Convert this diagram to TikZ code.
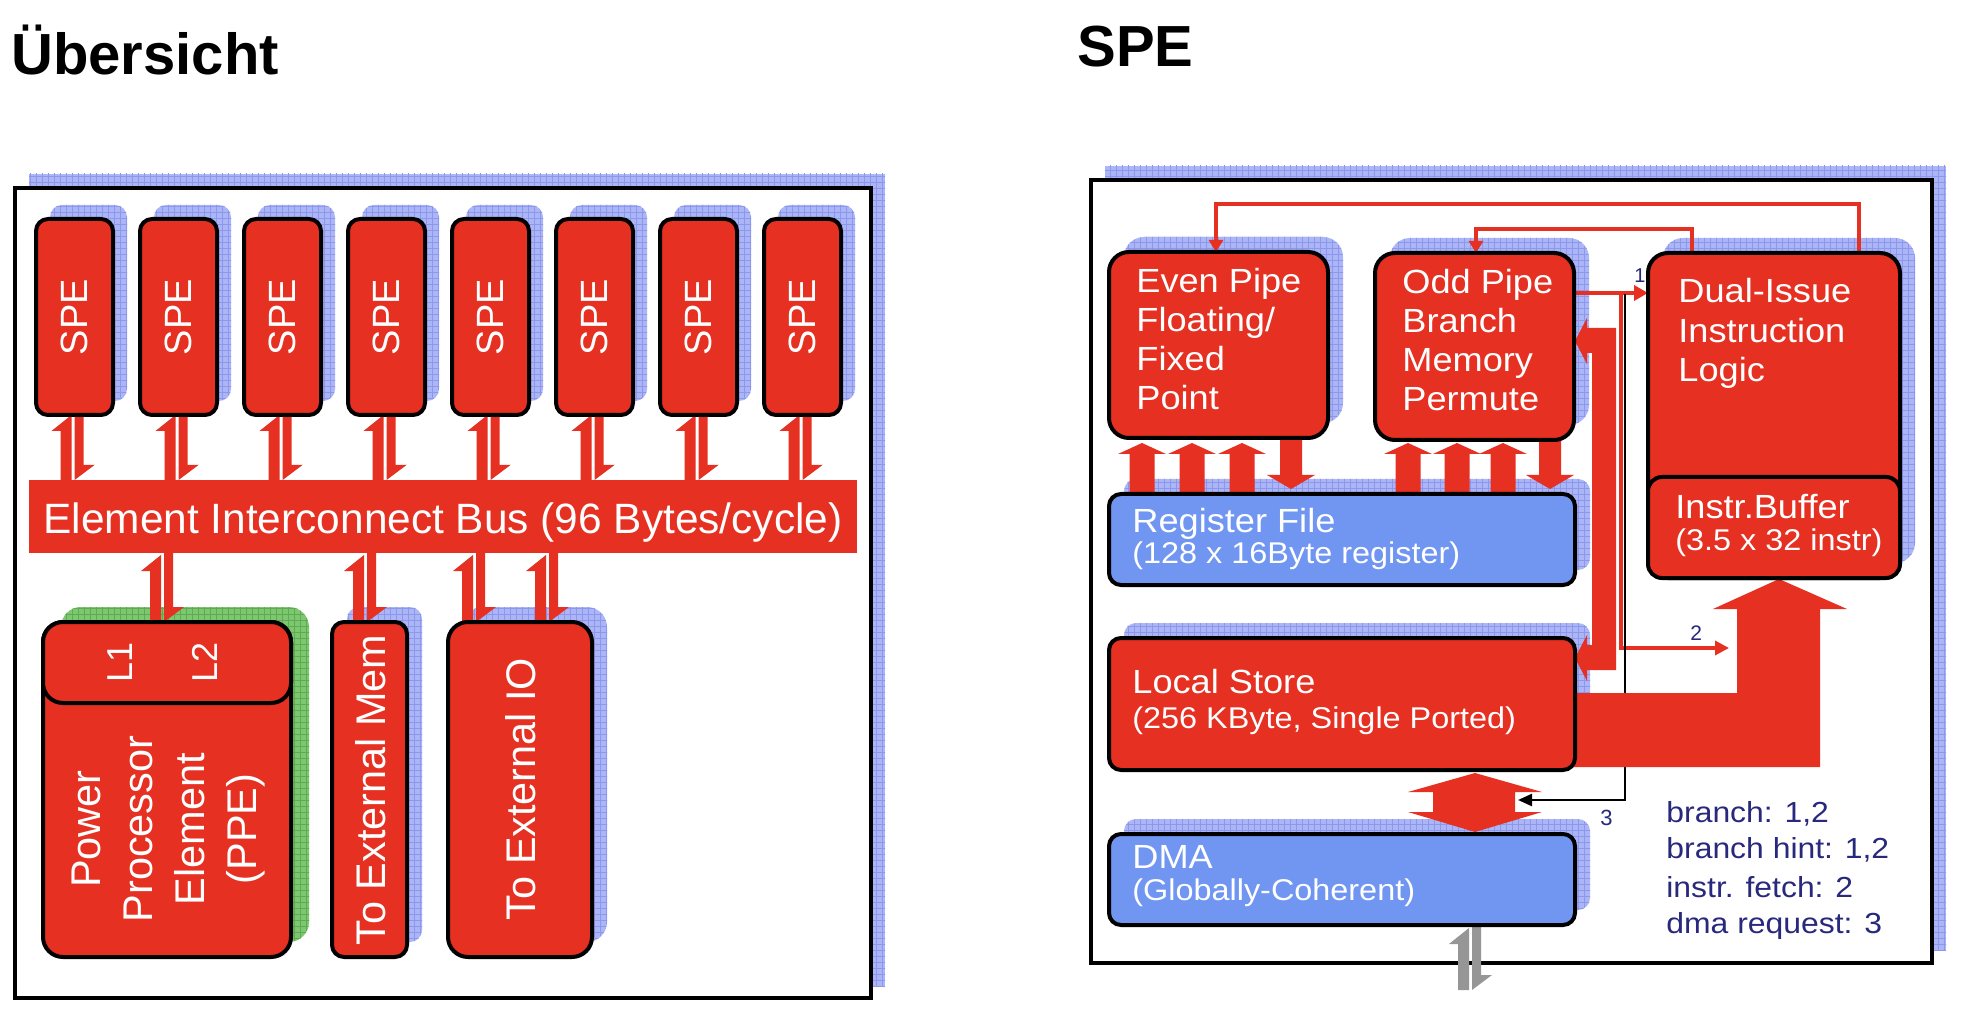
\documentclass[tikz,border=0pt]{standalone}
\usepackage{fontspec}
\setmainfont{Liberation Sans}
\usepackage{graphicx}
\usetikzlibrary{arrows.meta,fit,patterns}
\pgfdeclarelayer{lzero}
\pgfdeclarelayer{lone}
\pgfdeclarelayer{ltwo}
\pgfsetlayers{lzero,lone,ltwo,main}
\definecolor{cred}{RGB}{229,48,34}
\definecolor{cblue}{RGB}{112,150,242}
\definecolor{shblue}{RGB}{172,182,247}
\definecolor{shgrid}{RGB}{140,152,238}
\definecolor{shgreen}{RGB}{125,200,110}
\definecolor{shggrid}{RGB}{95,170,85}
\definecolor{navy}{RGB}{40,40,125}
\definecolor{cgray}{RGB}{150,150,150}
\newcommand\shadowrect[7]{%
  \fill[#6,rounded corners=#5] (#1,#2) rectangle (#3,#4);
  \fill[pattern=grid,pattern color=#7,rounded corners=#5] (#1,#2) rectangle (#3,#4);}
\newcommand\hpair[4]{%
  \fill[#4] ({#1-3},{#2+2}) -- ({#1-23},{#2+18}) -- ({#1-14},{#2+18}) -- ({#1-14},#3) -- ({#1-3},#3) -- cycle;
  \fill[#4] (#1,#2) -- ({#1+9},#2) -- ({#1+9},{#3-15}) -- ({#1+20},{#3-15}) -- (#1,#3) -- cycle;}
\newcommand\uparr[1]{%
  \fill[cred] (#1,443) -- ({#1+24},454) -- ({#1+12.5},454) -- ({#1+12.5},495) -- ({#1-12.5},495) -- ({#1-12.5},454) -- ({#1-24},454) -- cycle;}
\newcommand\dnarr[1]{%
  \fill[cred] ({#1-11},437) -- ({#1+11},437) -- ({#1+11},475) -- ({#1+24},475) -- (#1,489) -- ({#1-24},475) -- ({#1-11},475) -- cycle;}
\newcommand\sx[1]{\scalebox{1.08}[1]{#1}}
\newcommand\sy[1]{\scalebox{1.1}[1]{#1}}
\newcommand\fA{\fontsize{16.75pt}{20pt}\selectfont}
\newcommand\fB{\fontsize{15pt}{18pt}\selectfont}
\newcommand\fL{\fontsize{14.5pt}{17pt}\selectfont}
\begin{document}
\begin{tikzpicture}[x=0.5pt,y=-0.5pt,
  rbox/.style={draw=black,line width=2pt,fill=cred,inner sep=0pt,outer sep=0pt},
  bbox/.style={rbox,fill=cblue},
  wt/.style={text=white,inner sep=0pt,anchor=base west},
  nv/.style={text=navy,inner sep=0pt,anchor=base west},
  redln/.style={draw=cred,line width=1.8pt},
  rtip/.style={-{Triangle[length=7pt,width=7pt]}}]
\useasboundingbox (0,0) rectangle (1978,1016);

% titles
\node[anchor=base west,inner sep=0pt,font=\fontsize{29pt}{34pt}\selectfont\bfseries] (tleft) at (11,75) {Übersicht};
\node[anchor=base west,inner sep=0pt,font=\fontsize{29pt}{34pt}\selectfont\bfseries] (tright) at (1077,67) {SPE};

% frames
\begin{pgfonlayer}{lzero}
\shadowrect{29}{174}{885}{986}{0pt}{shblue}{shgrid}
\shadowrect{1105}{166}{1946}{950}{0pt}{shblue}{shgrid}
\node[fit={(15,188) (871,998)},draw,line width=2.2pt,fill=white,inner sep=0pt] (lframe) {};
\node[fit={(1091,180) (1932,963)},draw,line width=2.2pt,fill=white,inner sep=0pt] (rframe) {};
\end{pgfonlayer}

% shadows
\begin{pgfonlayer}{lone}
\foreach \i in {0,...,7}{\shadowrect{50+104*\i}{205}{127+104*\i}{401}{6pt}{shblue}{shgrid}}
\shadowrect{61}{607}{309}{942}{10pt}{shgreen}{shggrid}
\shadowrect{347}{607}{422}{942}{6pt}{shblue}{shgrid}
\shadowrect{463}{607}{607}{942}{10pt}{shblue}{shgrid}
\shadowrect{1124}{237}{1343}{423}{10pt}{shblue}{shgrid}
\shadowrect{1390}{238}{1589}{425}{10pt}{shblue}{shgrid}
\shadowrect{1663}{238}{1915}{563}{10pt}{shblue}{shgrid}
\shadowrect{1124}{479}{1590}{570}{6pt}{shblue}{shgrid}
\shadowrect{1124}{623}{1590}{755}{6pt}{shblue}{shgrid}
\shadowrect{1124}{819}{1590}{910}{6pt}{shblue}{shgrid}
\end{pgfonlayer}

% left panel boxes
\foreach \i in {0,...,7}{
  \node[rbox,rounded corners=6pt,fit={({36+104*\i},219) ({113+104*\i},415)}] (spe\i) {};
  \node[rotate=90,text=white,inner sep=0pt,font=\fontsize{19pt}{23pt}\selectfont] (spet\i) at (spe\i.center) {SPE};
}
\node[fill=cred,inner sep=0pt,fit={(29,480) (857,553)}] (eib) {};
\node[text=white,inner sep=0pt,anchor=base,font=\fontsize{21.2pt}{25pt}\selectfont] (eibt) at (443,533) {Element Interconnect Bus (96 Bytes/cycle)};
\node[rbox,rounded corners=10pt,fit={(43,622) (291,957)}] (ppe) {};
\node[rbox,rounded corners=10pt,fit={(43,622) (291,703)}] (ppec) {};
\node[rbox,rounded corners=6pt,fit={(332,622) (407,957)}] (mem) {};
\node[rbox,rounded corners=10pt,fit={(448,622) (592,957)}] (io) {};

% left panel arrows
\begin{pgfonlayer}{ltwo}
\foreach \i in {0,...,7}{\hpair{74.5+104*\i}{413}{480}{cred}}
\hpair{164}{553}{622}{cred}
\hpair{367}{553}{622}{cred}
\hpair{476}{553}{622}{cred}
\hpair{549}{553}{622}{cred}
\end{pgfonlayer}

% left panel texts
\node[rotate=90,text=white,inner sep=0pt,font=\fontsize{18pt}{22pt}\selectfont] (tl1) at (120,662) {L1};
\node[rotate=90,text=white,inner sep=0pt,font=\fontsize{18pt}{22pt}\selectfont] (tl2) at (205,662) {L2};
\foreach \t/\xx [count=\k] in {Power/100,Processor/152,Element/204,(PPE)/256}{
  \node[rotate=90,anchor=base,text=white,inner sep=0pt,font=\fontsize{20.75pt}{25pt}\selectfont] (ppet\k) at (\xx,829) {\t};
}
\node[rotate=90,text=white,inner sep=0pt,font=\fontsize{20.7pt}{25pt}\selectfont] (memt) at (371,790) {To External Mem};
\node[rotate=90,text=white,inner sep=0pt,font=\fontsize{20.7pt}{25pt}\selectfont] (iot) at (521,789) {To External IO};

% right panel boxes
\node[rbox,rounded corners=10pt,fit={(1109,252) (1328,438)}] (even) {};
\node[rbox,rounded corners=10pt,fit={(1375,253) (1574,440)}] (odd) {};
\node[rbox,rounded corners=10pt,fit={(1648,253) (1900,578)}] (dual) {};
\node[rbox,rounded corners=7pt,fit={(1648,477) (1900,578)}] (ibuf) {};
\node[bbox,rounded corners=6pt,fit={(1109,494) (1575,585)}] (reg) {};
\node[rbox,rounded corners=6pt,fit={(1109,638) (1575,770)}] (ls) {};
\node[bbox,rounded corners=6pt,fit={(1109,834) (1575,925)}] (dma) {};

% right panel connectors
\begin{pgfonlayer}{ltwo}
\coordinate (fa) at (1859,204);
\coordinate (fb) at (1216,204);
\draw[redln,-{Triangle[length=6pt,width=7pt]}] (fa |- dual.north) -- (fa) -- (fb) -- (fb |- even.north);
\coordinate (fc) at (1692,229);
\coordinate (fd) at (1476,229);
\draw[redln,-{Triangle[length=6pt,width=7pt]}] (fc |- dual.north) -- (fc) -- (fd) -- (fd |- odd.north);
\coordinate (p1) at (1575,293);
\draw[redln,line width=2pt,-{Triangle[length=7pt,width=7.5pt]}] (odd.east |- p1) -- (dual.west |- p1);
\coordinate (j1) at (1621,294);
\coordinate (k1) at (1621,648);
\coordinate (t2) at (1729,648);
\draw[redln,rtip] (j1) -- (k1) -- (t2);
\coordinate (j2) at (1625,294);
\coordinate (k2) at (1625,800);
\coordinate (t3) at (1518,800);
\draw[black,line width=1.2pt,-{Triangle[length=7pt,width=6pt]}] (j2) -- (k2) -- (t3);
% load/store U arrow
\fill[cred] (1575,341) -- (1587,318) -- (1587,328) -- (1616,328) -- (1616,670) -- (1587,670) -- (1587,681) -- (1575,658) -- (1587,635) -- (1587,645) -- (1592,645) -- (1592,353) -- (1587,353) -- (1587,364) -- cycle;
% instruction fetch big arrow
\fill[cred] (1570,693) -- (1737,693) -- (1737,609) -- (1713,609) -- (1779,579) -- (1847,609) -- (1820,609) -- (1820,767) -- (1570,767) -- cycle;
% DMA <-> LS
\fill[cred] (1475,773) -- (1542,792) -- (1515,792) -- (1515,812) -- (1542,812) -- (1475,832) -- (1408,812) -- (1433,812) -- (1433,792) -- (1408,792) -- cycle;
% register file arrows
\uparr{1142}\uparr{1192}\uparr{1242}\dnarr{1291}
\uparr{1408}\uparr{1457}\uparr{1503}\dnarr{1550}
% external DMA
\hpair{1472}{926}{990}{cgray}
\end{pgfonlayer}

% right panel texts
\node[wt,font=\fA] (ev1) at (1136,293) {\sx{Even Pipe}};
\node[wt,font=\fA] (ev2) at (1136,332) {\sx{Floating/}};
\node[wt,font=\fA] (ev3) at (1136,371) {\sx{Fixed}};
\node[wt,font=\fA] (ev4) at (1136,410) {\sx{Point}};
\node[wt,font=\fA] (od1) at (1402,294) {\sx{Odd Pipe}};
\node[wt,font=\fA] (od2) at (1402,333) {\sx{Branch}};
\node[wt,font=\fA] (od3) at (1402,372) {\sx{Memory}};
\node[wt,font=\fA] (od4) at (1402,411) {\sx{Permute}};
\node[wt,font=\fA] (du1) at (1678,303) {\sx{Dual-Issue}};
\node[wt,font=\fA] (du2) at (1678,343) {\sx{Instruction}};
\node[wt,font=\fA] (du3) at (1678,382) {\sx{Logic}};
\node[wt,font=\fA] (ib1) at (1675,518) {\sx{Instr.Buffer}};
\node[wt,font=\fB] (ib2) at (1675,550) {\sx{(3.5 x 32 instr)}};
\node[wt,font=\fA] (rg1) at (1132,532) {\sx{Register File}};
\node[wt,font=\fB] (rg2) at (1132,563) {\sx{(128 x 16Byte register)}};
\node[wt,font=\fA] (ls1) at (1132,693) {\sx{Local Store}};
\node[wt,font=\fB] (ls2) at (1132,728) {\sx{(256 KByte, Single Ported)}};
\node[wt,font=\fA] (dm1) at (1132,868) {\sx{DMA}};
\node[wt,font=\fB] (dm2) at (1132,900) {\sx{(Globally-Coherent)}};
\node[nv,font=\fontsize{10pt}{12pt}\selectfont] (n1) at (1634,283) {1};
\node[nv,font=\fontsize{10.5pt}{12pt}\selectfont] (n2) at (1690,640) {2};
\node[nv,font=\fontsize{11pt}{13pt}\selectfont] (n3) at (1600,825) {3};
\node[nv,font=\fL] (lg1) at (1666,822) {\sy{branch: 1,2}};
\node[nv,font=\fL] (lg2) at (1666,858) {\sy{branch hint: 1,2}};
\node[nv,font=\fL] (lg3) at (1666,897) {\sy{instr. fetch: 2}};
\node[nv,font=\fL] (lg4) at (1666,933) {\sy{dma request: 3}};
\end{tikzpicture}
\end{document}
